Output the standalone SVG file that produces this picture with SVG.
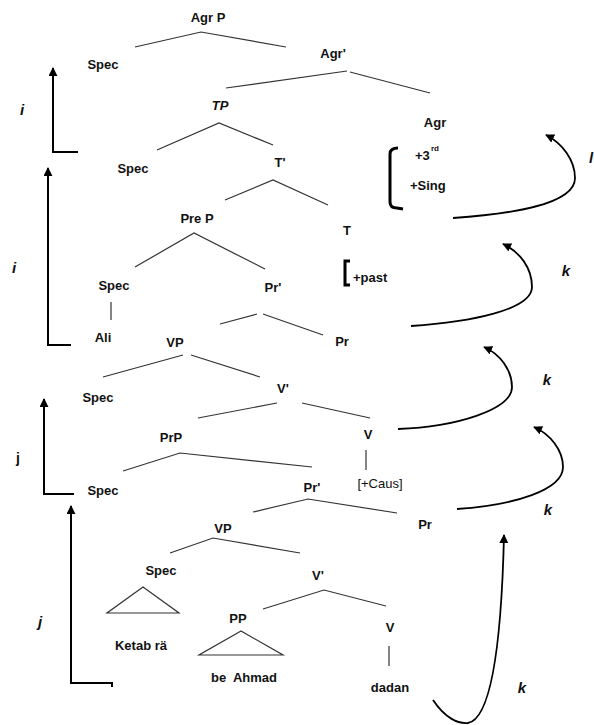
<svg xmlns="http://www.w3.org/2000/svg" width="594" height="725" viewBox="0 0 594 725">
<style>
text{font-family:"Liberation Sans",Arial,sans-serif;font-size:13px;font-weight:bold;fill:#111;text-anchor:middle}
.n{font-weight:normal}
.it{font-style:italic;font-size:15px}
.st{text-anchor:start}
.sup{font-size:8px;text-anchor:start}
.tree{fill:none;stroke:#333;stroke-width:1.2}
.mv{fill:none;stroke:#000;stroke-width:2}
.cv{fill:none;stroke:#000;stroke-width:1.8}
.br{fill:none;stroke:#000;stroke-width:3}
</style>
<defs>
<marker id="ah" viewBox="0 0 10 10" refX="9" refY="5" markerWidth="9" markerHeight="9" markerUnits="userSpaceOnUse" orient="auto">
<path d="M0,0 L10,5 L0,10 z" fill="#000"/>
</marker>
</defs>
<g id="connectors">
<polyline class="tree" points="135,47 201,32 286,47"/>
<line class="tree" x1="226" y1="88" x2="347" y2="71"/>
<line class="tree" x1="350" y1="72" x2="430" y2="93"/>
<polyline class="tree" points="157,150 219,123 273,145"/>
<polyline class="tree" points="225,200 273,180 328,205"/>
<polyline class="tree" points="135,267 194,233 265,269"/>
<line class="tree" x1="111" y1="302" x2="111" y2="320"/>
<line class="tree" x1="220" y1="324" x2="257" y2="314"/>
<line class="tree" x1="263" y1="314" x2="323" y2="335"/>
<line class="tree" x1="103" y1="377" x2="183" y2="355"/>
<line class="tree" x1="191" y1="355" x2="260" y2="377"/>
<line class="tree" x1="198" y1="418" x2="277" y2="403"/>
<line class="tree" x1="302" y1="403" x2="370" y2="418"/>
<polyline class="tree" points="123,471 180,453 312,467"/>
<line class="tree" x1="366" y1="450" x2="366" y2="470"/>
<polyline class="tree" points="253,512 308,499 397,513"/>
<polyline class="tree" points="170,553 213,538 300,553"/>
<polygon class="tree" points="143,587 107,613 179,613"/>
<polyline class="tree" points="263,609 324,590 386,606"/>
<polygon class="tree" points="241,631 199,655 283,655"/>
<line class="tree" x1="389" y1="646" x2="389" y2="666"/>
<path class="mv" d="M78,152 H53 V68" marker-end="url(#ah)"/>
<path class="mv" d="M71,345 H48 V168" marker-end="url(#ah)"/>
<path class="mv" d="M74,494 H44 V399" marker-end="url(#ah)"/>
<path class="mv" d="M112,687 V683 H71 V506" marker-end="url(#ah)"/>
<path class="cv" d="M453,218 C510,214 575,205 575,178 C575,160 562,143 546,135" marker-end="url(#ah)"/>
<path class="cv" d="M411,326 C470,322 532,310 532,287 C532,268 520,252 503,244" marker-end="url(#ah)"/>
<path class="cv" d="M398,429 C455,427 512,410 512,387 C512,370 500,354 484,347" marker-end="url(#ah)"/>
<path class="cv" d="M457,509 C515,505 563,490 563,467 C563,450 550,434 534,427" marker-end="url(#ah)"/>
<path class="cv" d="M433,700 C445,718 458,724 468,723 C495,718 502,620 504,535" marker-end="url(#ah)"/>
<path class="br" d="M398,148 Q390,148 390,154 L390,202 Q390,208 397,208 L403,209"/>
<path class="br" d="M350,261 L345,261 L345,285 L350,285"/>
</g>
<g id="agrp"><text x="208" y="22">Agr P</text></g>
<g id="spec1"><text x="103" y="69">Spec</text></g>
<g id="agrbar"><text x="333" y="58">Agr'</text></g>
<g id="tp"><text class="it" style="font-size:13px" x="220" y="110">TP</text></g>
<g id="agr"><text x="435" y="127">Agr</text></g>
<g id="spec2"><text x="133" y="173">Spec</text></g>
<g id="tbar"><text x="280" y="167">T'</text></g>
<g id="feat-agr"><text class="st" x="415" y="160">+3</text><text class="sup" x="431" y="151">rd</text><text class="st" x="410" y="190">+Sing</text></g>
<g id="prep"><text x="197" y="223">Pre P</text></g>
<g id="t"><text x="347" y="235">T</text></g>
<g id="spec3"><text x="114" y="290">Spec</text></g>
<g id="prbar1"><text x="273" y="292">Pr'</text></g>
<g id="past"><text class="st" x="353" y="282">+past</text></g>
<g id="ali"><text x="103" y="342">Ali</text></g>
<g id="vp1"><text x="175" y="347">VP</text></g>
<g id="pr1"><text x="342" y="346">Pr</text></g>
<g id="spec4"><text x="98" y="402">Spec</text></g>
<g id="vbar1"><text x="283" y="393">V'</text></g>
<g id="prp"><text x="171" y="442">PrP</text></g>
<g id="v1"><text x="368" y="439">V</text></g>
<g id="spec5"><text x="103" y="495">Spec</text></g>
<g id="caus"><text class="n" x="380" y="488">[+Caus]</text></g>
<g id="prbar2"><text x="312" y="492">Pr'</text></g>
<g id="pr2"><text x="425" y="529">Pr</text></g>
<g id="vp2"><text x="223" y="533">VP</text></g>
<g id="spec6"><text x="161" y="575">Spec</text></g>
<g id="vbar2"><text x="318" y="580">V'</text></g>
<g id="pp"><text x="238" y="623">PP</text></g>
<g id="v2"><text x="390" y="632">V</text></g>
<g id="ketab"><text x="141" y="650">Ketab rä</text></g>
<g id="beahmad"><text x="244" y="682">be&#160; Ahmad</text></g>
<g id="dadan"><text x="390" y="692">dadan</text></g>
<g id="labels">
<text class="it" x="22" y="115">i</text>
<text class="it" x="14" y="273">i</text>
<text x="18" y="463" style="font-size:14px">j</text>
<text class="it" x="40" y="627">j</text>
<text class="it" x="566" y="276">k</text>
<text class="it" x="547" y="385">k</text>
<text class="it" x="548" y="515">k</text>
<text class="it" x="522" y="693">k</text>
<text class="it" x="591" y="163">l</text>
</g>
</svg>
